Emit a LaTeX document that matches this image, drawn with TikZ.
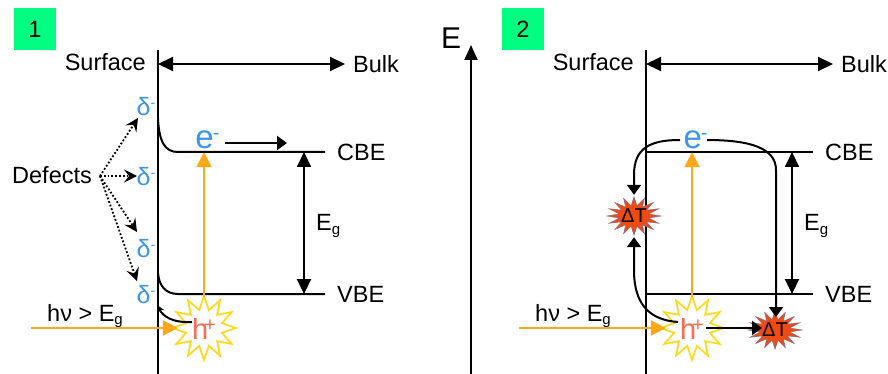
\documentclass[tikz,border=0pt]{standalone}
\usepackage{fontspec}
\setmainfont{Liberation Sans}
\usetikzlibrary{arrows.meta,positioning}
\definecolor{boxgreen}{HTML}{00FF80}
\definecolor{oran}{HTML}{FFA91A}
\definecolor{yel}{HTML}{FFD91A}
\definecolor{blu}{HTML}{3A96F0}
\definecolor{salm}{HTML}{FF6A50}
\definecolor{redst}{HTML}{F04A10}
\definecolor{redge}{HTML}{8A6A80}
\newcommand{\fsz}[1]{\fontsize{#1pt}{#1pt}\selectfont}
\newcommand{\sbg}{\raisebox{-3.5pt}{\fsz{15}g}}
\newcommand{\sups}[1]{\raisebox{8pt}{\fsz{14}#1}}
\newcommand{\holetxt}{h\hspace{-4pt}\raisebox{8pt}{\fsz{20}+}}
\newcommand{\elec}{\hspace{7pt}e\hspace{-1pt}\raisebox{9pt}{\fsz{20}-}}
% centre x, centre y, outer rx, outer ry, inner ratio, points, style
\newcommand{\spikes}[7]{%
  \pgfmathtruncatemacro{\nlast}{2*#6-1}%
  \draw[#7] plot[samples at={0,...,\nlast}, variable=\k]
   ({#1+(mod(\k,2)==0?1:#5)*#3*sin(\k*180/#6)},{#2-(mod(\k,2)==0?1:#5)*#4*cos(\k*180/#6)}) -- cycle;}
\tikzset{
  txt/.style={inner sep=0pt,font=\fsz{23.5}},
  blue txt/.style={inner sep=0pt,text=blu,font=\fsz{25}},
  axisl/.style={line width=2pt,black},
  band/.style={line width=2pt,black},
  dbl/.style={line width=2pt,{Triangle[length=15pt,width=14pt]}-{Triangle[length=15pt,width=14pt]}},
  arr/.style={line width=2pt,-{Triangle[length=10pt,width=14pt]}},
  orangearr/.style={line width=2.2pt,oran,-{Triangle[length=15pt,width=15pt]}},
  dots/.style={line width=1.8pt,dotted,-{Stealth[length=13pt,width=13pt,inset=5pt]}},
  curvearr/.style={line width=2pt,-{Stealth[length=8pt,width=8pt,inset=2pt]}},
  sq/.style={fill=boxgreen,minimum size=42pt,inner sep=0pt,font=\fsz{23.5}},
  holespot/.style={minimum width=62pt,text height=42pt,text depth=20pt,inner sep=0pt,text=salm,font=\fsz{29}},
  esym/.style={text height=23pt,text depth=3pt,inner sep=0pt,text=blu,font=\fsz{33}},
  hot/.style={minimum width=52pt,minimum height=38pt,inner sep=0pt,font=\fsz{20}},
  yellowstar/.style={draw=yel,line width=1.7pt,fill=white},
  redstar/.style={draw=redge,line width=.5pt,fill=redst},
}
\begin{document}
\begin{tikzpicture}[x=1pt,y=-1pt]
\useasboundingbox (0,0) rectangle (888,374);
% ---------- Panel 1
\node[sq] (n1) at (35,29) {1};
\coordinate (a1t) at (158,50); \coordinate (a1b) at (158,374);
\draw[axisl] (a1t) -- (a1b);
\node[txt,anchor=east] (surf1) at (146,62) {Surface};
\node[txt,anchor=west] (bulk1) at (353,64) {Bulk};
\coordinate (ds1) at (158,64);
\draw[dbl] (ds1) -- ([xshift=-8pt]bulk1.west);
\node[txt,anchor=west] (cbe1) at (337,152) {CBE};
\node[txt,anchor=west] (vbe1) at (337,294) {VBE};
\coordinate (c1s) at (158,118); \coordinate (v1s) at (158,273);
\draw[band] (c1s) .. controls (159,142) and (165,152) .. (178,152) -- ([xshift=-12pt]cbe1.west);
\draw[band] (v1s) .. controls (159,285) and (165,294) .. (178,294) -- ([xshift=-12pt]vbe1.west);
\spikes{204}{328}{32}{32}{0.58}{12}{yellowstar}
\node[holespot] (h1) at (204,328) {\holetxt};
\node[esym] (e1) at (204,139) {\elec};
\draw[orangearr] (h1.north) -- (e1.south);
\coordinate (e1t) at (287,143);
\draw[arr] (225,143) -- (e1t);
\coordinate (eg1t) at (304,152); \coordinate (eg1b) at (304,294);
\draw[dbl] (eg1t) -- (eg1b);
\node[txt,anchor=west] (eglab1) at (316,226) {E\sbg};
\node[txt,anchor=west] (hv1) at (47,316) {hν > E\sbg};
\coordinate (in1) at (31,328);
\draw[orangearr] (in1) -- ([xshift=5pt]h1.west);
\coordinate (pt1) at (157,305);
\draw[curvearr] (192,322) .. controls (172,323) and (163,316) .. (pt1);
\node[blue txt] (d1) at (146,107) {δ\sups{-}};
\node[blue txt] (d2) at (146,177) {δ\sups{-}};
\node[blue txt] (d3) at (146,249) {δ\sups{-}};
\node[blue txt] (d4) at (146,295) {δ\sups{-}};
\node[txt,anchor=west] (def) at (12,175) {Defects};
\draw[dots] (100,176) -- (138,118);
\draw[dots] (100,176) -- (137,176);
\draw[dots] (100,176) -- (137,232);
\draw[dots] (100,176) -- (137,281);
% ---------- Axis E
\node[inner sep=0pt,font=\fsz{30}] (elab) at (451,38) {E};
\coordinate (eb) at (471,374); \coordinate (et) at (471,45);
\draw[line width=2pt,-{Triangle[length=15pt,width=13pt]}] (eb) -- (et);
% ---------- Panel 2
\node[sq] (n2) at (523,29) {2};
\coordinate (a2t) at (646,50); \coordinate (a2b) at (646,374);
\draw[axisl] (a2t) -- (a2b);
\node[txt,anchor=east] (surf2) at (634,62) {Surface};
\node[txt,anchor=west] (bulk2) at (841,64) {Bulk};
\coordinate (ds2) at (646,64);
\draw[dbl] (ds2) -- ([xshift=-8pt]bulk2.west);
\node[txt,anchor=west] (cbe2) at (825,152) {CBE};
\node[txt,anchor=west] (vbe2) at (825,294) {VBE};
\coordinate (c2s) at (646,152); \coordinate (v2s) at (646,294);
\draw[band] (c2s) -- ([xshift=-12pt]cbe2.west);
\draw[band] (v2s) -- ([xshift=-12pt]vbe2.west);
\spikes{692}{328}{32}{32}{0.58}{12}{yellowstar}
\node[holespot] (h2) at (692,328) {\holetxt};
\node[esym] (e2) at (692,139) {\elec};
\draw[orangearr] (h2.north) -- (e2.south);
\coordinate (eg2t) at (792,152); \coordinate (eg2b) at (792,294);
\draw[dbl] (eg2t) -- (eg2b);
\node[txt,anchor=west] (eglab2) at (804,226) {E\sbg};
\node[txt,anchor=west] (hv2) at (535,316) {hν > E\sbg};
\coordinate (in2) at (519,328);
\draw[orangearr] (in2) -- ([xshift=5pt]h2.west);
\spikes{634}{216}{27}{19}{0.55}{16}{redstar}
\spikes{775}{330}{27}{19}{0.55}{16}{redstar}
\node[hot] (t1) at (634,216) {ΔT};
\node[hot] (t2) at (775,330) {ΔT};
\draw[arr] (680,140) .. controls (650,140) and (634,148) .. (634,175) -- ([yshift=2pt]t1.north);
\draw[arr] (707,140) .. controls (750,140) and (776,148) .. (776,170) -- (776,317);
\draw[arr] (678,322) .. controls (650,320) and (634,305) .. (634,270) -- ([yshift=-2pt]t1.south);
\draw[arr] (706,328) -- (762,328);
\end{tikzpicture}
\end{document}
